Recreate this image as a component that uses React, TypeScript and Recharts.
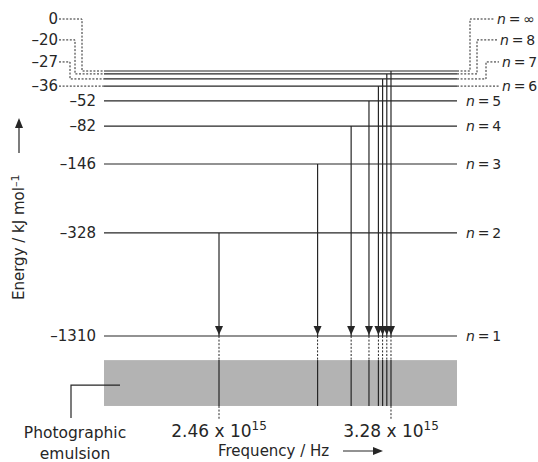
import React from 'react';
import { ComposedChart, XAxis, YAxis, ReferenceLine, ReferenceArea, Scatter, Customized } from 'recharts';

// hydrogen energy levels, from n = 1 upwards
const levelNames = ['1', '2', '3', '4', '5', '6', '7', '8', '∞'];
const levelEnergies = [-1310, -328, -146, -82, -52, -36, -27, -20, 0]; // kJ mol-1
// the diagram is not to scale: how far down each level is drawn (0 = top, -100 = n = 1)
const levelDepths = [-100, -61.1, -35.1, -20.8, -11.3, -5.7, -3, -1.1, 0];
// Lyman lines falling to n = 1 from n = 2, 3, 4, 5, 6, 7, 8, ∞ (x 10^15 Hz)
const lineFrequencies = [2.46, 2.93, 3.09, 3.175, 3.22, 3.24, 3.26, 3.28];
const labelledFrequencies = ['2.46', '3.28'];

const INK = '#262626';
const DASH = '2 1.6';
const EMULSION_TOP = -109.1;
const EMULSION_BOTTOM = -126.4;
const TAIL_END = -131.7;
const THIN = '\u2009';

// the crowded top levels get lifted labels joined by dashed leaders
const leaders: Record<string, { rise: number; bendL?: number; bendR?: number; textR: number }> = {
  '6': { rise: 0, textR: 45 },
  '7': { rise: 17, bendL: 34, bendR: 29, textR: 45 },
  '8': { rise: 34, bendL: 29, bendR: 20, textR: 43 },
  '∞': { rise: 52, bendL: 22, bendR: 13, textR: 40 },
};

const fmtEnergy = (e: number) => (e < 0 ? `–${Math.abs(e)}` : `${e}`);

const levelShape = (name: string, energy: number) => (p: any) => {
  const { x1, x2, y1: y } = p;
  const ld = leaders[name];
  const ly = ld ? y - ld.rise : y;
  let leftPath = '';
  let rightPath = '';
  if (ld) {
    leftPath = ld.bendL != null ? `M${x1 - 45},${ly}H${x1 - ld.bendL}V${y}H${x1}` : `M${x1 - 45},${y}H${x1}`;
    rightPath = ld.bendR != null ? `M${x2},${y}H${x2 + ld.bendR}V${ly}H${x2 + ld.textR - 3}` : `M${x2},${y}H${x2 + ld.textR - 3}`;
  }
  return (
    <g>
      <line x1={x1} y1={y} x2={x2} y2={y} stroke={INK} strokeWidth={1.2} />
      {leftPath && <path d={leftPath} fill="none" stroke={INK} strokeDasharray={DASH} />}
      {rightPath && <path d={rightPath} fill="none" stroke={INK} strokeDasharray={DASH} />}
      <text x={ld ? x1 - 46 : x1 - 8} y={ly + 5} textAnchor="end" fontSize={15} fill={INK}>
        {fmtEnergy(energy)}
      </text>
      <text x={ld ? x2 + ld.textR : x2 + 9} y={ly + 5} fontSize={14} fill={INK}>
        <tspan fontStyle="italic">n</tspan>{`${THIN}=${THIN}${name}`}
      </text>
    </g>
  );
};

const arrowData = lineFrequencies.map((f) => ({ freq: f, depth: levelDepths[0] }));

const AxisTitles = () => (
  <g fill={INK} fontSize={15}>
    <g transform="translate(24,300) rotate(-90)">
      <text x={0} y={0}>
        Energy / kJ mol<tspan dy={-5} fontSize={11}>–1</tspan>
      </text>
      <line x1={147} y1={-5} x2={175} y2={-5} stroke={INK} strokeWidth={1.2} />
      <polygon points="182,-5 172,-9 172,-1" />
    </g>
    <text x={218} y={456}>Frequency / Hz</text>
    <line x1={343} y1={451} x2={376} y2={451} stroke={INK} strokeWidth={1.2} />
    <polygon points="383,451 373,447 373,455" />
  </g>
);

export default function App() {
  return (
    <div style={{ position: 'absolute', left: 0, top: 0, width: 538, height: 462, background: '#fff', fontFamily: '"DejaVu Sans", sans-serif' }}>
      <ComposedChart width={538} height={462} margin={{ top: 71, right: 81, bottom: 20, left: 104 }}>
        <XAxis type="number" dataKey="freq" domain={[1.9117, 3.5947]} allowDataOverflow hide />
        <YAxis type="number" dataKey="depth" domain={[-140, 0]} allowDataOverflow hide />

        <ReferenceArea
          y1={EMULSION_BOTTOM}
          y2={EMULSION_TOP}
          shape={(p: any) => (
            <g>
              <rect x={p.x} y={p.y} width={p.width} height={p.height} fill="#b3b3b3" />
              <path d={`M${p.x + 16},${p.y + 25}H${p.x - 33}V${p.y + p.height + 12}`} fill="none" stroke={INK} strokeWidth={1.2} />
              <text x={p.x - 29} y={p.y + p.height + 32} textAnchor="middle" fontSize={15.5} fill={INK}>Photographic</text>
              <text x={p.x - 29} y={p.y + p.height + 53} textAnchor="middle" fontSize={15.5} fill={INK}>emulsion</text>
            </g>
          )}
        />

        {levelDepths.map((d, i) => (
          <ReferenceLine key={levelNames[i]} y={d} shape={levelShape(levelNames[i], levelEnergies[i])} />
        ))}

        {lineFrequencies.map((f, i) => (
          <React.Fragment key={f}>
            <ReferenceLine segment={[{ x: f, y: levelDepths[i + 1] }, { x: f, y: levelDepths[0] }]} stroke={INK} strokeWidth={1.2} />
            <ReferenceLine segment={[{ x: f, y: levelDepths[0] }, { x: f, y: EMULSION_TOP }]} stroke={INK} strokeDasharray={DASH} />
            <ReferenceLine segment={[{ x: f, y: EMULSION_TOP }, { x: f, y: EMULSION_BOTTOM }]} stroke={INK} strokeWidth={1.2} />
          </React.Fragment>
        ))}

        {labelledFrequencies.map((s) => (
          <ReferenceLine
            key={s}
            segment={[{ x: Number(s), y: EMULSION_BOTTOM }, { x: Number(s), y: TAIL_END }]}
            shape={(p: any) => (
              <g>
                <line x1={p.x1} y1={p.y1} x2={p.x2} y2={p.y2} stroke={INK} strokeDasharray={DASH} />
                <text x={p.x2} y={p.y2 + 17} textAnchor="middle" fontSize={17} fill={INK}>
                  {s} x 10<tspan dy={-7} fontSize={12}>15</tspan>
                </text>
              </g>
            )}
          />
        ))}

        <Scatter
          data={arrowData}
          dataKey="depth"
          isAnimationActive={false}
          shape={(p: any) => (
            <polygon points={`${p.cx - 4},${p.cy - 10} ${p.cx + 4},${p.cy - 10} ${p.cx},${p.cy - 1}`} fill={INK} />
          )}
        />

        <Customized component={AxisTitles} />
      </ComposedChart>
    </div>
  );
}
